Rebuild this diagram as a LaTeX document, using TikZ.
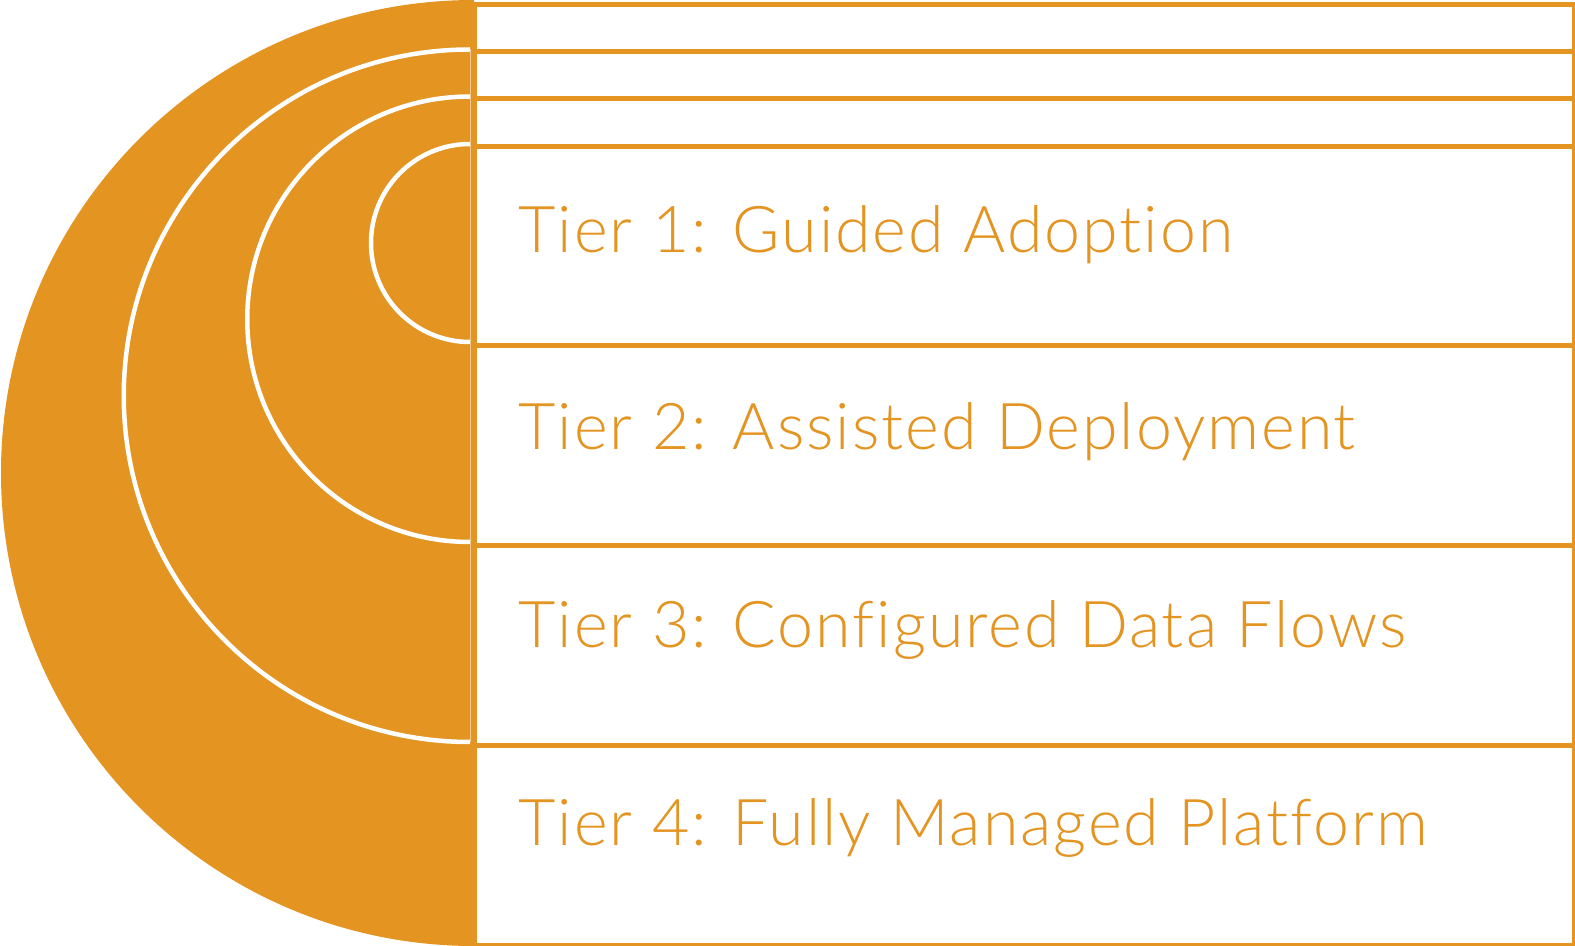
\documentclass[tikz,border=0pt]{standalone}
\usepackage{fontspec}
\setmainfont{Lato Light}[Ligatures=NoCommon, LetterSpace=3]
\definecolor{tierorange}{HTML}{E39421}
\tikzset{
  rowbox/.style={draw=tierorange, line width=0.05cm, fill=white, inner sep=0pt, anchor=north west},
  ring/.style={draw=white, line width=0.045cm, fill=tierorange},
  tiertext/.style={text=tierorange, font=\fontsize{18.35pt}{22pt}\selectfont, anchor=base west, inner sep=0pt}
}
\begin{document}
\begin{tikzpicture}[x=0.01cm,y=-0.01cm]
\useasboundingbox (0,0) rectangle (1575,946);
% big half disk
\fill[tierorange] (474,0) arc[start angle=270, end angle=90, radius=473] -- cycle;
% rows
\node[rowbox, minimum width=10.99cm, minimum height=0.47cm] (row0) at (472,2.5) {};
\node[rowbox, minimum width=10.99cm, minimum height=0.47cm] (rowa) at (472,49.5) {};
\node[rowbox, minimum width=10.99cm, minimum height=0.475cm] (rowb) at (472,96.5) {};
\node[rowbox, minimum width=10.99cm, minimum height=1.99cm] (row1) at (472,144) {};
\node[rowbox, minimum width=10.99cm, minimum height=2.00cm] (row2) at (472,343) {};
\node[rowbox, minimum width=10.99cm, minimum height=2.00cm] (row3) at (472,543) {};
\node[rowbox, minimum width=10.99cm, minimum height=2.00cm] (row4) at (472,743) {};
% nested half circles
\draw[ring] (470,49.5) arc[start angle=270, end angle=90, radius=346.25];
\draw[ring] (470,96.5) arc[start angle=270, end angle=90, radius=222.75];
\draw[ring] (470,144) arc[start angle=270, end angle=90, radius=99];
\draw[white, opacity=0.5, line width=0.01cm] (470.5,49.5) -- (470.5,742);
% labels
\node[tiertext] (t1) at (518,253) {Tier 1: Guided Adoption};
\node[tiertext] (t2) at (518,450) {Tier 2: Assisted Deployment};
\node[tiertext] (t3) at (518,648) {Tier 3: Configured Data Flows};
\node[tiertext] (t4) at (518,846) {Tier 4: Fully Managed Platform};
\end{tikzpicture}
\end{document}
